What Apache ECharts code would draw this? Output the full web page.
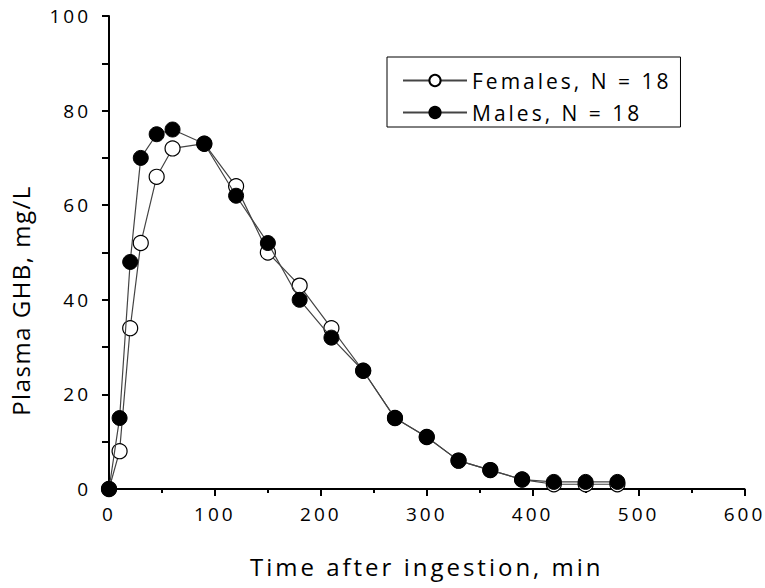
<!DOCTYPE html>
<html>
<head>
<meta charset="utf-8">
<script src="https://cdn.jsdelivr.net/npm/echarts@6/dist/echarts.min.js"></script>
<style>
  html, body { margin: 0; padding: 0; background: #fff; }
  #main { width: 765px; height: 588px; }
  #main svg text { letter-spacing: 3px !important; }
</style>
</head>
<body>
<div id="main"></div>
<script>
const times = [0, 10, 20, 30, 45, 60, 90, 120, 150, 180, 210, 240, 270, 300, 330, 360, 390, 420, 450, 480];
const females = [0, 8, 34, 52, 66, 72, 73, 64, 50, 43, 34, 25, 15, 11, 6, 4, 2, 1, 1, 1];
const males = [0, 15, 48, 70, 75, 76, 73, 62, 52, 40, 32, 25, 15, 11, 6, 4, 2, 1.5, 1.5, 1.5];
const seriesNames = ['Females, N = 18', 'Males, N = 18'];
const xTitle = 'Time after ingestion, min';
const yTitle = 'Plasma GHB, mg/L';

const font = '"Open Sans", "Liberation Sans", sans-serif';
const chart = echarts.init(document.getElementById('main'), null, { renderer: 'svg' });

function pairs(xs, ys) { return xs.map((x, i) => [x, ys[i]]); }

function applySpacing() {
  document.querySelectorAll('#main svg text').forEach(function (el) {
    if (el.textContent === yTitle) {
      el.style.setProperty('letter-spacing', '1.5px', 'important');
    }
  });
}
chart.on('finished', applySpacing);

chart.setOption({
  animation: false,
  backgroundColor: '#fff',
  grid: { left: 107, right: 20.5, top: 16, bottom: 99, containLabel: false },
  legend: {
    orient: 'vertical',
    left: 387, top: 57,
    padding: [13, 54, 4, 15],
    borderColor: '#000', borderWidth: 1,
    itemWidth: 64, itemHeight: 14, itemGap: 11,
    textStyle: { fontFamily: font, fontSize: 21, color: '#000' },
    data: seriesNames
  },
  xAxis: {
    type: 'value', min: 0, max: 600, interval: 100,
    name: xTitle, nameLocation: 'middle', nameGap: 65,
    nameTextStyle: { fontFamily: font, fontSize: 24, color: '#000' },
    axisLine: { show: true, onZero: false, lineStyle: { color: '#000', width: 2 } },
    axisTick: { show: true, inside: false, length: 7, lineStyle: { color: '#000', width: 2 } },
    minorTick: { show: true, splitNumber: 2, length: 4, lineStyle: { color: '#000', width: 2 } },
    axisLabel: { fontFamily: font, fontSize: 19, color: '#000', margin: 15 },
    splitLine: { show: false }
  },
  yAxis: {
    type: 'value', min: 0, max: 100, interval: 20,
    name: yTitle, nameLocation: 'middle', nameGap: 77, nameRotate: 90,
    nameTextStyle: { fontFamily: font, fontSize: 24, color: '#000', padding: [0, 96, 0, 0] },
    axisLine: { show: true, onZero: false, lineStyle: { color: '#000', width: 2 } },
    axisTick: { show: true, inside: false, length: 7, lineStyle: { color: '#000', width: 2 } },
    minorTick: { show: true, splitNumber: 2, length: 7, lineStyle: { color: '#000', width: 2 } },
    axisLabel: { fontFamily: font, fontSize: 19, color: '#000', margin: 18 },
    splitLine: { show: false }
  },
  series: [
    {
      name: seriesNames[0], type: 'line', data: pairs(times, females),
      symbol: 'circle', symbolSize: 15,
      lineStyle: { color: '#444', width: 1.2 },
      itemStyle: { color: '#fff', borderColor: '#000', borderWidth: 1.2 },
      z: 2
    },
    {
      name: seriesNames[1], type: 'line', data: pairs(times, males),
      symbol: 'circle', symbolSize: 15,
      lineStyle: { color: '#444', width: 1.2 },
      itemStyle: { color: '#000', borderColor: '#000', borderWidth: 1 },
      z: 3
    }
  ]
});
setTimeout(applySpacing, 50);
</script>
</body>
</html>
